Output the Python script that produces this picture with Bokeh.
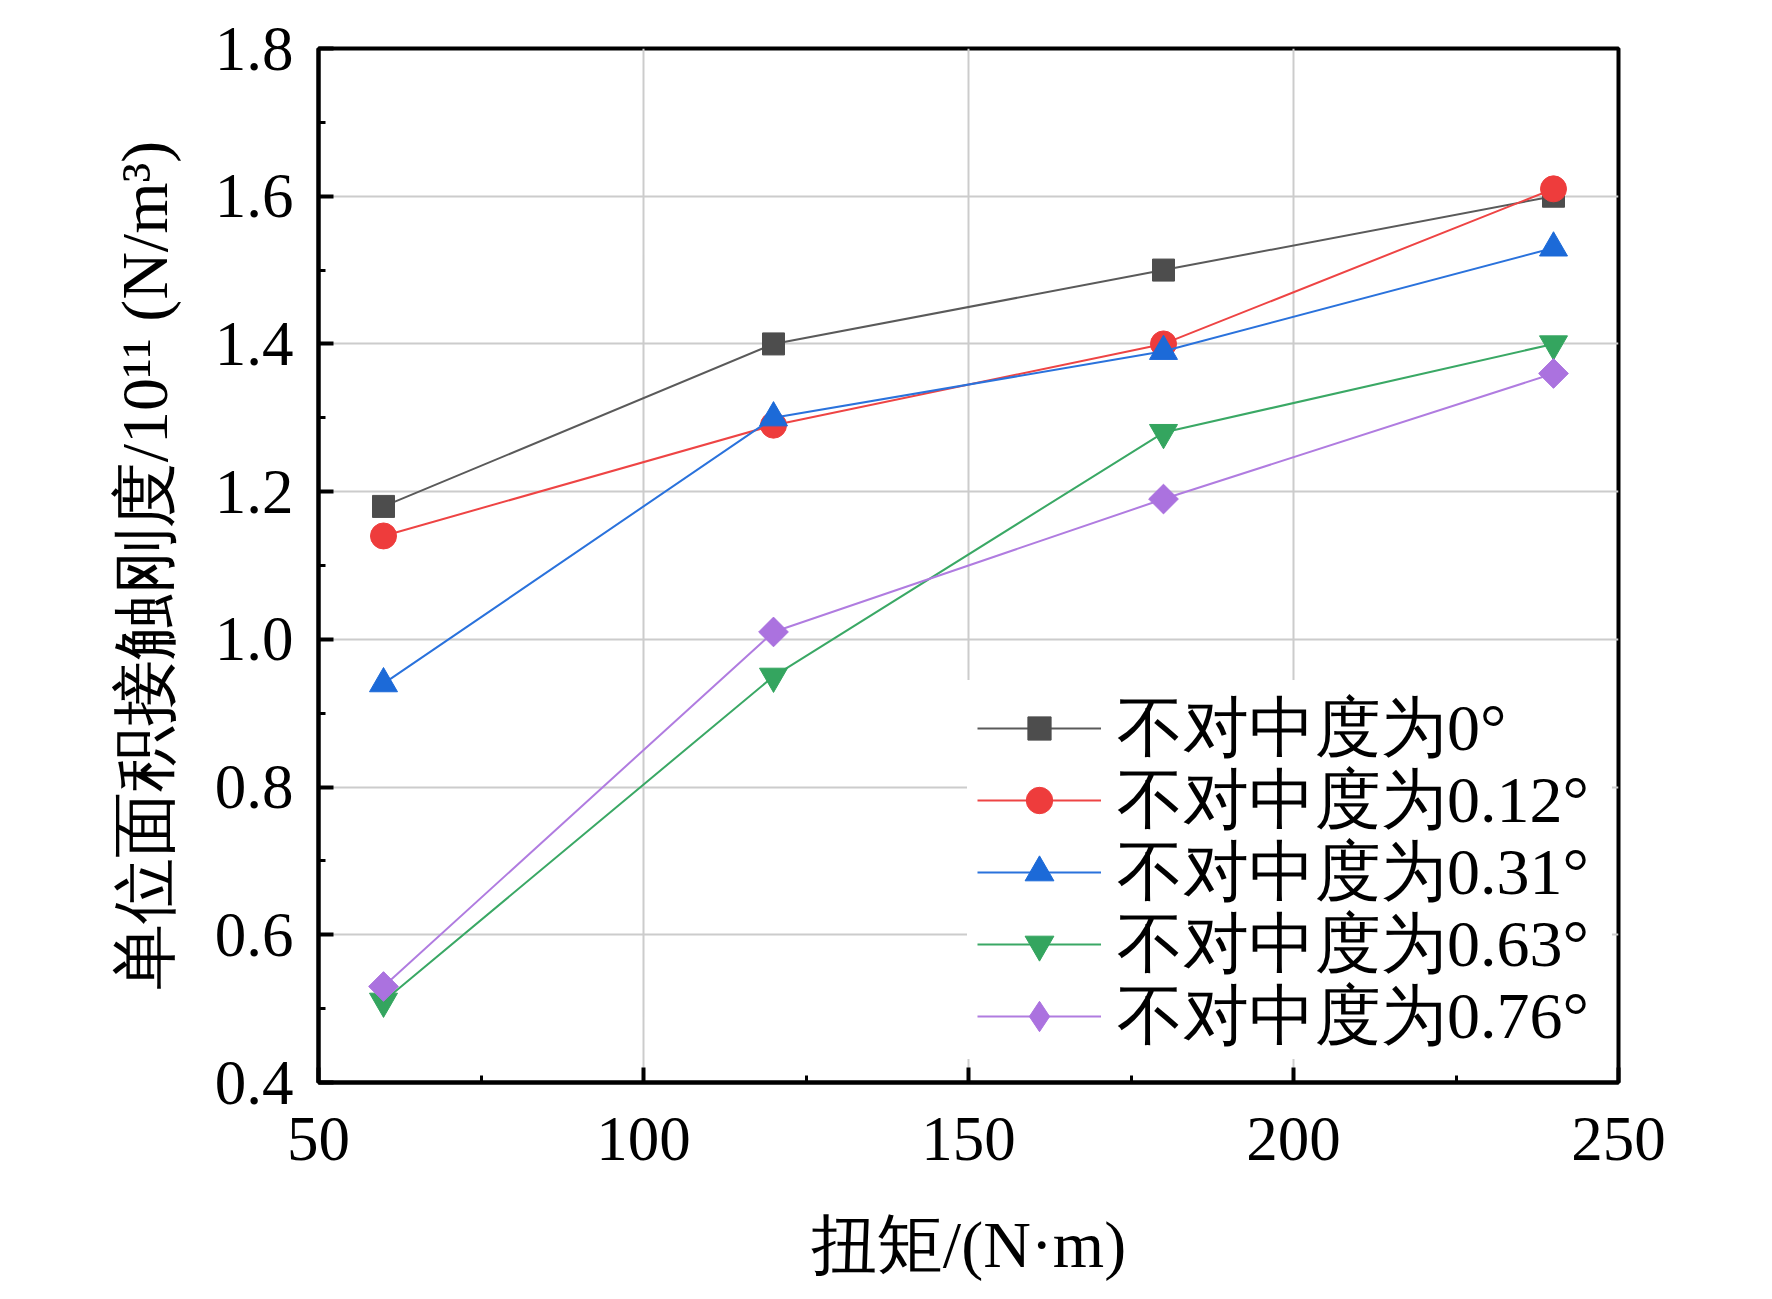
import math
from bokeh.plotting import figure
from bokeh.models import Range1d, FixedTicker, Legend, LegendItem
from bokeh.embed import file_html
from bokeh.resources import INLINE

# ---- data ----
torque = [60, 120, 180, 240]
s_0 = [1.18, 1.40, 1.50, 1.60]
s_012 = [1.14, 1.29, 1.40, 1.61]
s_031 = [0.94, 1.30, 1.39, 1.53]
s_063 = [0.51, 0.95, 1.28, 1.40]
s_076 = [0.53, 1.01, 1.19, 1.36]

series_labels = ["不对中度为0°", "不对中度为0.12°", "不对中度为0.31°", "不对中度为0.63°", "不对中度为0.76°"]

x_ticks = [50, 100, 150, 200, 250]
x_minor = [75, 125, 175, 225]
y_ticks = [0.4, 0.6, 0.8, 1.0, 1.2, 1.4, 1.6, 1.8]
y_tick_labels = ["0.4", "0.6", "0.8", "1.0", "1.2", "1.4", "1.6", "1.8"]
y_minor = [0.5, 0.7, 0.9, 1.1, 1.3, 1.5, 1.7]

x_label = "扭矩/(N·m)"
y_label = "单位面积接触刚度/10¹¹ (N/m³)"

FONT = "'Liberation Serif', serif"

p = figure(width=1750, height=1283, output_backend="svg", toolbar_location=None,
           x_range=Range1d(50, 250), y_range=Range1d(0.4, 1.8),
           min_border_left=318, min_border_right=132, min_border_top=48, min_border_bottom=197)

p.background_fill_color = "white"
p.border_fill_color = "white"
p.outline_line_color = "black"
p.outline_line_width = 4

p.xaxis.ticker = FixedTicker(ticks=x_ticks, minor_ticks=x_minor)
p.yaxis.ticker = FixedTicker(ticks=y_ticks, minor_ticks=y_minor)
p.yaxis.major_label_overrides = {t: l for t, l in zip(y_ticks, y_tick_labels)}

for ax in (p.xaxis, p.yaxis):
    ax.axis_line_width = 4
    ax.axis_line_color = "black"
    ax.major_tick_in = 15
    ax.major_tick_out = 0
    ax.minor_tick_in = 7
    ax.minor_tick_out = 0
    ax.major_tick_line_width = 4
    ax.minor_tick_line_width = 3
    ax.major_label_text_font = FONT
    ax.major_label_text_font_size = "63px"
    ax.major_label_text_color = "black"
    ax.axis_label_text_font = FONT
    ax.axis_label_text_font_size = "66px"
    ax.axis_label_text_font_style = "normal"
    ax.axis_label_text_color = "black"

p.xaxis.axis_label = x_label
p.yaxis.axis_label = y_label
p.xaxis.major_label_standoff = 35
p.yaxis.major_label_standoff = 25
p.xaxis.axis_label_standoff = 45
p.yaxis.axis_label_standoff = 31

p.xgrid.ticker = FixedTicker(ticks=x_ticks)
p.ygrid.ticker = FixedTicker(ticks=y_ticks)
p.grid.grid_line_color = "#cccccc"
p.grid.grid_line_width = 2

# (values, line colour, marker colour, marker, size, angle, legend marker, legend glyph height)
styles = [
    (s_0, "#5a5a5a", "#4d4d4d", "square", 22, 0.0, None, 58),
    (s_012, "#ee4444", "#ee3c3c", "circle", 26, 0.0, None, 66),
    (s_031, "#2a72dc", "#1c6ad8", "triangle", 28, 0.0, None, 72),
    (s_063, "#3aa865", "#34a55f", "inverted_triangle", 28, 0.0, None, 72),
    (s_076, "#b07ce0", "#ab72df", "square", 21, math.pi / 4, "diamond", 76),
]

# white backdrop behind the legend rows
backdrop_r = p.line(x=[], y=[], line_alpha=0)
backdrop = Legend(items=[LegendItem(label=" ", renderers=[backdrop_r])],
                  location=(649, 23), glyph_width=645, glyph_height=379,
                  label_standoff=0, label_width=0, label_height=0,
                  label_text_font_size="1px", padding=0, margin=0, spacing=0,
                  border_line_color=None, background_fill_color="white",
                  background_fill_alpha=1.0)
p.add_layout(backdrop, "center")

row_bottom = [309, 237, 165, 93, 21]
for (vals, lc, mc, mk, sz, ang, lmk, gh), lab, yb in zip(styles, series_labels, row_bottom):
    r1 = p.line(torque, vals, line_color=lc, line_width=2)
    r2 = p.scatter(torque, vals, marker=mk, size=sz, angle=ang,
                   fill_color=mc, line_color=mc)
    rend = [r1, r2]
    if lmk is not None:
        # same points as a plain diamond (hidden inside the rotated square),
        # used for the legend symbol because legend glyphs ignore angle
        r3 = p.scatter(torque, vals, marker=lmk, size=28, fill_color=mc, line_color=mc)
        rend = [r1, r3]
    lg = Legend(items=[LegendItem(label=lab, renderers=rend)], location=(659, yb))
    lg.label_text_font = FONT
    lg.label_text_font_size = "66px"
    lg.label_text_color = "black"
    lg.glyph_width = 124
    lg.glyph_height = gh
    lg.label_height = 62
    lg.label_standoff = 16
    lg.spacing = 0
    lg.padding = 0
    lg.margin = 0
    lg.border_line_color = None
    lg.background_fill_alpha = 0.0
    p.add_layout(lg, "center")

open("out.html", "w").write(file_html(p, INLINE))
